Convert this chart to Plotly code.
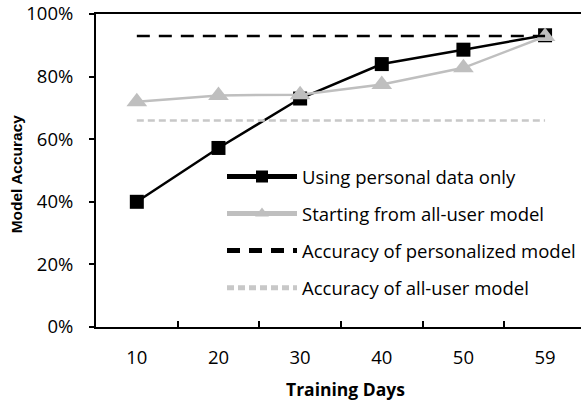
import plotly.graph_objects as go

days = ["10", "20", "30", "40", "50", "59"]
personal_only = [0.40, 0.572, 0.73, 0.84, 0.886, 0.932]
from_all_user = [0.72, 0.74, 0.742, 0.775, 0.828, 0.928]
personalized_acc = [0.93] * len(days)
all_user_acc = [0.66] * len(days)

FONT = "Open Sans, sans-serif"

fig = go.Figure()
fig.add_trace(go.Scatter(
    x=days, y=personal_only, name="Using personal data only", mode="lines+markers",
    legendgroup="a",
    line=dict(color="black", width=2.5),
    marker=dict(symbol="square", size=14, color="black")))
fig.add_trace(go.Scatter(
    x=days, y=from_all_user, name="Starting from all-user model", mode="lines+markers",
    legendgroup="b",
    line=dict(color="#bfbfbf", width=2.5),
    marker=dict(symbol="triangle-up", size=18, color="#bfbfbf")))
fig.add_trace(go.Scatter(
    x=days, y=personalized_acc, name="Accuracy of personalized model", mode="lines",
    legendgroup="c",
    line=dict(color="black", width=2.5, dash="13px,9px")))
fig.add_trace(go.Scatter(
    x=days, y=all_user_acc, name="Accuracy of all-user model", mode="lines",
    legendgroup="d",
    line=dict(color="#c8c8c8", width=2.5, dash="7px,4px")))

fig.update_layout(
    width=581, height=402,
    margin=dict(l=96, r=0, t=12, b=75),
    paper_bgcolor="white", plot_bgcolor="white",
    font=dict(family=FONT, size=18.5, color="black"),
    showlegend=True,
    legend=dict(x=0.26, y=0.54, xanchor="left", yanchor="top",
                bgcolor="rgba(0,0,0,0)", font=dict(size=18.5, family=FONT),
                tracegroupgap=10, itemwidth=70, itemsizing="constant"),
    xaxis=dict(type="category", range=[-0.5, 5.44], showline=True, linecolor="black",
               linewidth=2, mirror=True, ticks="inside", tickson="boundaries",
               ticklen=6, tickwidth=1.5, tickcolor="black", showgrid=False,
               ticklabelstandoff=13),
    yaxis=dict(range=[0, 1], dtick=0.2, tickformat=".0%", showline=True, linecolor="black",
               linewidth=2, ticks="outside", ticklen=5, tickwidth=1.5, tickcolor="black",
               showgrid=False, zeroline=False, ticklabelstandoff=12,
               ticklabeloverflow="allow"),
    annotations=[
        dict(text="<b>Training Days</b>", xref="paper", yref="paper", x=0.515, y=-0.197,
             xanchor="center", yanchor="middle", showarrow=False,
             font=dict(size=17.5, family=FONT)),
        dict(text="<b>Model Accuracy</b>", xref="paper", yref="paper", x=-0.162, y=0.489,
             xanchor="center", yanchor="middle", textangle=-90, showarrow=False,
             font=dict(size=15.5, family="Liberation Sans, Arial, sans-serif")),
    ],
)

# drop the default body margin so the figure sits at the window's corner
fig.write_html("out.html", config={"displayModeBar": False},
               post_script="document.body.style.margin='0';")
